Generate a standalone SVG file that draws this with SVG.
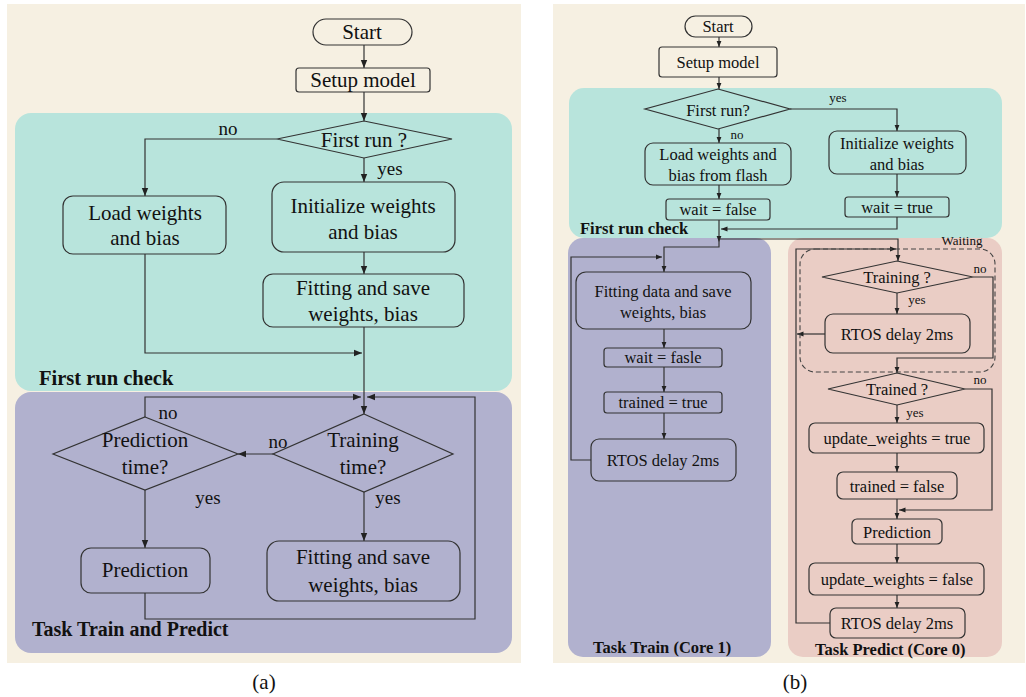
<svg xmlns="http://www.w3.org/2000/svg" width="1026" height="697" viewBox="0 0 1026 697">
<defs>
<marker id="ahA" viewBox="0 0 10 10" refX="10" refY="5" markerWidth="8" markerHeight="8" markerUnits="userSpaceOnUse" orient="auto"><path d="M0,1 L10,5 L0,9 z" fill="#222"/></marker>
<marker id="ahB" viewBox="0 0 10 10" refX="10" refY="5" markerWidth="6.5" markerHeight="6.5" markerUnits="userSpaceOnUse" orient="auto"><path d="M0,1 L10,5 L0,9 z" fill="#222"/></marker>
</defs>
<style>
.n{fill:none;stroke:#333;stroke-width:1.2}
.c{fill:none;stroke:#333;stroke-width:1.2}
.ca{fill:none;stroke:#333;stroke-width:1.2;marker-end:url(#ahA)}
.cb{fill:none;stroke:#333;stroke-width:1.2;marker-end:url(#ahB)}
text{font-family:"Liberation Serif","Times New Roman",serif;fill:#111;text-anchor:middle;dominant-baseline:central}
.ta{font-size:21px}
.tb{font-size:16.5px}
.la{font-size:19px}
.lb{font-size:13px}
.h{font-weight:bold;text-anchor:start;dominant-baseline:auto}
.cap{font-size:21px}
</style>
<rect width="1026" height="697" fill="#ffffff"/>
<!-- Panel (a) backgrounds -->
<g id="panelA-bg">
<rect x="7" y="4" width="514" height="659" fill="#f6f0e2"/>
<rect x="15" y="113" width="497" height="278" rx="16" fill="#b8e4dc"/>
<rect x="15" y="392" width="497" height="261" rx="16" fill="#b1b1ce"/>
</g>
<!-- Panel (b) backgrounds -->
<g id="panelB-bg">
<rect x="553" y="4" width="472" height="659" fill="#f6f0e2"/>
<rect x="568" y="238" width="203" height="419" rx="15" fill="#b1b1ce"/>
<rect x="788" y="238" width="214" height="419" rx="15" fill="#eacdc5"/>
<rect x="569" y="88" width="433" height="150" rx="15" fill="#b8e4dc"/>
</g>

<!-- Panel (a) connectors -->
<g id="connectorsA">
<path class="ca" d="M364,45 V68"/>
<path class="ca" d="M364,92 V121"/>
<path class="ca" d="M277,139 H145 V196"/>
<path class="ca" d="M364,158 V182"/>
<path class="ca" d="M364,252 V274"/>
<path class="ca" d="M145,254 V353 H362"/>
<path class="ca" d="M364,327 V414"/>
<path class="ca" d="M145,417 V397 H361"/>
<path class="ca" d="M145,593 V619 H475 V397 H367"/>
<path class="ca" d="M273,454 H238"/>
<path class="ca" d="M145,490 V548"/>
<path class="ca" d="M364,492 V541"/>
</g>

<!-- Panel (a) nodes -->
<g id="a-start"><rect class="n" x="313" y="19" width="99" height="26" rx="13"/><text class="ta" x="362" y="32">Start</text></g>
<g id="a-setup"><rect class="n" x="296" y="68" width="134" height="24" rx="3"/><text class="ta" x="363" y="80">Setup model</text></g>
<g id="a-firstrun"><polygon class="n" points="364,121 452,139 364,158 277,139"/><text class="ta" x="364" y="140">First run ?</text></g>
<g id="a-load"><rect class="n" x="63" y="196" width="163" height="58" rx="10"/><text class="ta" x="145" y="213">Load weights</text><text class="ta" x="145" y="238">and bias</text></g>
<g id="a-init"><rect class="n" x="272" y="182" width="183" height="70" rx="12"/><text class="ta" x="363" y="206">Initialize weights</text><text class="ta" x="363" y="232">and bias</text></g>
<g id="a-fit1"><rect class="n" x="263" y="274" width="201" height="53" rx="10"/><text class="ta" x="363" y="288">Fitting and save</text><text class="ta" x="363" y="314">weights, bias</text></g>
<g id="a-training"><polygon class="n" points="364,414 453,454 364,492 273,454"/><text class="ta" x="363" y="440">Training</text><text class="ta" x="363" y="467">time?</text></g>
<g id="a-predtime"><polygon class="n" points="145,417 238,454 145,490 53,454"/><text class="ta" x="145" y="440">Prediction</text><text class="ta" x="145" y="467">time?</text></g>
<g id="a-prediction"><rect class="n" x="81" y="548" width="129" height="45" rx="10"/><text class="ta" x="145" y="570">Prediction</text></g>
<g id="a-fit2"><rect class="n" x="267" y="541" width="193" height="60" rx="12"/><text class="ta" x="363" y="557">Fitting and save</text><text class="ta" x="363" y="585">weights, bias</text></g>
<g id="a-labels">
<text class="la" x="228" y="128">no</text>
<text class="la" x="390" y="168">yes</text>
<text class="la" x="168" y="412">no</text>
<text class="la" x="278" y="441">no</text>
<text class="la" x="208" y="497">yes</text>
<text class="la" x="388" y="497">yes</text>
<text class="h" x="39" y="385" font-size="20.5">First run check</text>
<text class="h" x="32" y="636" font-size="20">Task Train and Predict</text>
<text class="cap" x="264" y="682">(a)</text>
</g>

<!-- Panel (b) connectors -->
<g id="connectorsB">
<path class="cb" d="M719,37 V47"/>
<path class="cb" d="M719,77 V89"/>
<path class="cb" d="M790,109 H897 V131"/>
<path class="cb" d="M719,129 V143"/>
<path class="cb" d="M719,185 V199"/>
<path class="cb" d="M897,174 V197"/>
<path class="cb" d="M897,217 V229 H721"/>
<path class="cb" d="M719,220 V242"/>
<path class="cb" d="M719,239 H898 V261"/>
<path class="cb" d="M719,242 V247 H664 V272"/>
<path class="cb" d="M591,460 H571 V257 H662"/>
<path class="cb" d="M664,329 V348"/>
<path class="cb" d="M664,367 V392"/>
<path class="cb" d="M664,413 V439"/>
<path class="cb" d="M830,623 H796 V249 H896"/>
<path class="cb" d="M973,277 H993 V358 H897 V373"/>
<path class="cb" d="M897,293 V314"/>
<path class="cb" d="M825,334 H797"/>
<path class="cb" d="M965,389 H992 V510 H899"/>
<path class="cb" d="M897,405 V423"/>
<path class="cb" d="M897,453 V472"/>
<path class="cb" d="M897,499 V519"/>
<path class="cb" d="M897,544 V563"/>
<path class="cb" d="M897,595 V608"/>
</g>

<!-- Panel (b) nodes -->
<g id="b-waiting"><rect x="800" y="249" width="195" height="123" rx="15" fill="none" stroke="#444" stroke-width="1.1" stroke-dasharray="5,3"/><text class="lb" x="962" y="240">Waiting</text></g>
<g id="b-start"><rect class="n" x="685" y="16" width="67" height="21" rx="10.5"/><text class="tb" x="718" y="26.5">Start</text></g>
<g id="b-setup"><rect class="n" x="659" y="47" width="118" height="30" rx="3"/><text class="tb" x="718" y="62">Setup model</text></g>
<g id="b-firstrun"><polygon class="n" points="718,89 790,109 718,129 645,109"/><text class="tb" x="718" y="110">First run?</text></g>
<g id="b-load"><rect class="n" x="645" y="143" width="146" height="42" rx="8"/><text class="tb" x="718" y="154">Load weights and</text><text class="tb" x="718" y="175">bias from flash</text></g>
<g id="b-init"><rect class="n" x="829" y="131" width="137" height="43" rx="8"/><text class="tb" x="897" y="143">Initialize weights</text><text class="tb" x="897" y="164">and bias</text></g>
<g id="b-waitfalse"><rect class="n" x="666" y="199" width="104" height="21" rx="3"/><text class="tb" x="718" y="209.5">wait = false</text></g>
<g id="b-waittrue"><rect class="n" x="845" y="197" width="104" height="20" rx="3"/><text class="tb" x="897" y="207">wait = true</text></g>
<g id="b-fit"><rect class="n" x="576" y="272" width="175" height="57" rx="10"/><text class="tb" x="663" y="291">Fitting data and save</text><text class="tb" x="663" y="312">weights, bias</text></g>
<g id="b-waitfasle"><rect class="n" x="604" y="348" width="118" height="19" rx="3"/><text class="tb" x="663" y="357.5">wait = fasle</text></g>
<g id="b-trainedtrue"><rect class="n" x="604" y="392" width="118" height="21" rx="3"/><text class="tb" x="663" y="402.5">trained = true</text></g>
<g id="b-rtos1"><rect class="n" x="591" y="439" width="145" height="42" rx="8"/><text class="tb" x="663" y="460">RTOS delay 2ms</text></g>
<g id="b-training"><polygon class="n" points="897,261 973,277 897,293 822,277"/><text class="tb" x="897" y="277">Training ?</text></g>
<g id="b-rtos2"><rect class="n" x="825" y="314" width="145" height="39" rx="8"/><text class="tb" x="897" y="334">RTOS delay 2ms</text></g>
<g id="b-trained"><polygon class="n" points="897,373 965,389 897,405 828,389"/><text class="tb" x="897" y="389">Trained ?</text></g>
<g id="b-uwtrue"><rect class="n" x="809" y="423" width="175" height="30" rx="6"/><text class="tb" x="897" y="438">update_weights = true</text></g>
<g id="b-trainedfalse"><rect class="n" x="837" y="472" width="120" height="27" rx="6"/><text class="tb" x="897" y="486">trained = false</text></g>
<g id="b-prediction"><rect class="n" x="852" y="519" width="90" height="25" rx="5"/><text class="tb" x="897" y="532">Prediction</text></g>
<g id="b-uwfalse"><rect class="n" x="809" y="563" width="175" height="32" rx="6"/><text class="tb" x="897" y="579">update_weights = false</text></g>
<g id="b-rtos3"><rect class="n" x="830" y="608" width="135" height="30" rx="6"/><text class="tb" x="897" y="623">RTOS delay 2ms</text></g>
<g id="b-labels">
<text class="lb" x="838" y="97">yes</text>
<text class="lb" x="737" y="134">no</text>
<text class="lb" x="980" y="268">no</text>
<text class="lb" x="917" y="299">yes</text>
<text class="lb" x="980" y="379">no</text>
<text class="lb" x="915" y="412">yes</text>
<text class="h" x="580" y="234" font-size="16.5">First run check</text>
<text class="h" x="593" y="653" font-size="16.5">Task Train (Core 1)</text>
<text class="h" x="815" y="655" font-size="16.5">Task Predict (Core 0)</text>
<text class="cap" x="795" y="682">(b)</text>
</g>
</svg>
